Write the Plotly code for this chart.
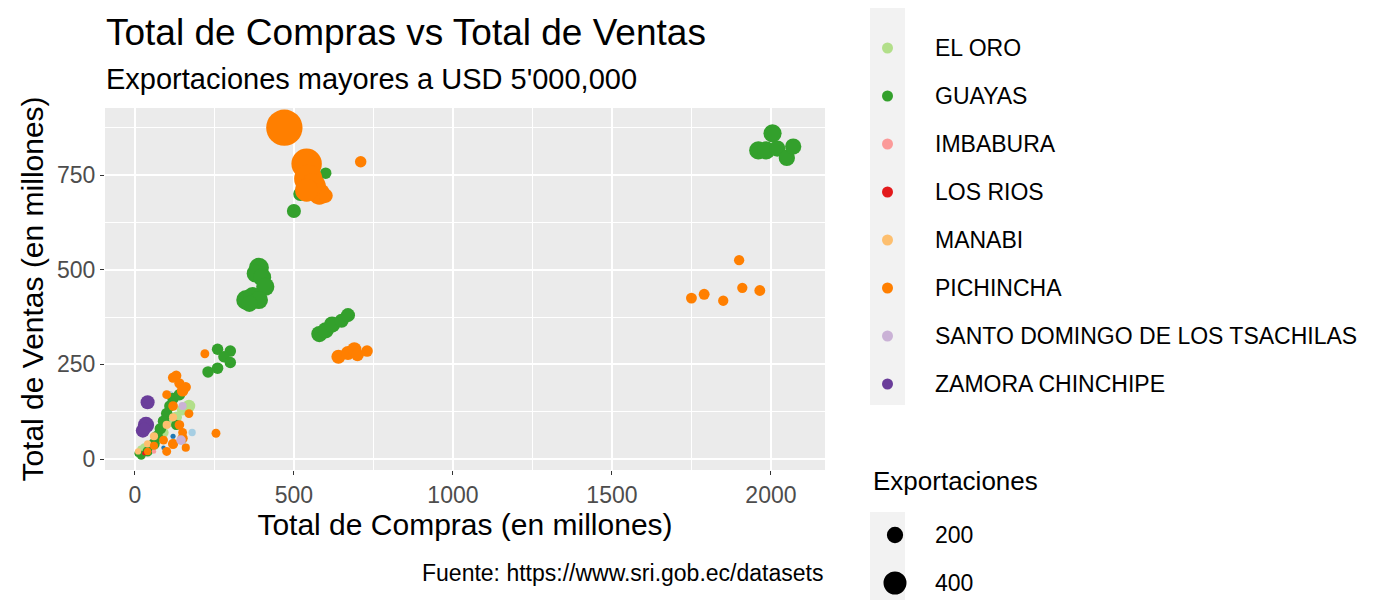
import plotly.graph_objects as go

# Data: (compras, ventas, exportaciones) in millions
provincias = {
    "AZUAY": [(150, 130, 60), (180, 70, 40), (150, 50, 60), (110, 170, 40)],
    "COTOPAXI": [(120, 60, 20), (90, 30, 15)],
    "EL ORO": [(170, 140, 120), (150, 130, 100), (130, 110, 100), (110, 100, 100),
               (90, 70, 80), (70, 50, 60), (30, 30, 60), (20, 25, 50)],
    "GUAYAS": [(1960, 815, 250), (1985, 815, 250), (2005, 860, 250), (2020, 820, 200),
               (2050, 795, 200), (2070, 825, 200), (500, 655, 150), (520, 700, 150),
               (540, 720, 150), (570, 740, 150), (600, 755, 100), (390, 505, 300),
               (380, 490, 250), (400, 480, 250), (410, 455, 250), (350, 420, 300),
               (370, 430, 250), (390, 420, 250), (360, 410, 200), (580, 330, 200),
               (600, 340, 200), (620, 355, 200), (650, 365, 150), (670, 380, 150),
               (260, 290, 100), (300, 285, 100), (280, 270, 100), (300, 255, 100),
               (260, 240, 100), (230, 230, 100), (120, 160, 100), (110, 140, 100),
               (100, 120, 100), (90, 100, 100), (80, 80, 100), (70, 60, 100),
               (60, 40, 100), (40, 20, 80), (20, 10, 60), (10, 15, 40), (130, 90, 80),
               (140, 170, 100)],
    "IMBABURA": [(60, 20, 15)],
    "LOS RIOS": [(30, 15, 15)],
    "MANABI": [(60, 60, 50), (100, 90, 50), (120, 110, 50), (40, 40, 40), (10, 20, 30)],
    "PICHINCHA": [(470, 875, 1000), (540, 780, 700), (545, 740, 600), (560, 720, 500),
                  (580, 700, 350), (540, 710, 400), (600, 695, 150), (710, 785, 100),
                  (640, 270, 150), (670, 280, 150), (690, 290, 150), (700, 275, 120),
                  (730, 285, 100), (1750, 425, 90), (1790, 435, 90), (1850, 418, 80),
                  (1900, 525, 80), (1910, 452, 80), (1965, 445, 90), (220, 278, 60),
                  (255, 68, 60), (120, 215, 80), (130, 220, 80), (140, 200, 80),
                  (150, 180, 100), (160, 190, 80), (100, 170, 60), (120, 140, 70),
                  (170, 120, 60), (140, 90, 70), (150, 70, 60), (120, 40, 80),
                  (100, 20, 60), (160, 30, 50), (60, 35, 50), (40, 20, 40),
                  (90, 50, 60), (150, 55, 80)],
    "SANTO DOMINGO DE LOS TSACHILAS": [(145, 50, 70), (150, 140, 50)],
    "ZAMORA CHINCHIPE": [(40, 150, 150), (35, 90, 200), (25, 75, 150), (30, 80, 120)],
}
colores = ["#A6CEE3", "#1F78B4", "#B2DF8A", "#33A02C", "#FB9A99",
           "#E31A1C", "#FDBF6F", "#FF7F00", "#CAB2D6", "#6A3D9A"]
tamanos_leyenda = [200, 400]

FONT = "Liberation Sans"
K = 1.15  # diameter per sqrt(export)

fig = go.Figure()
for (nombre, pts), col in zip(provincias.items(), colores):
    fig.add_trace(go.Scatter(
        x=[p[0] for p in pts], y=[p[1] for p in pts], mode="markers", name=nombre,
        marker=dict(color=col, size=[K * p[2] ** 0.5 for p in pts], line=dict(width=0), opacity=1),
        showlegend=False, cliponaxis=False,
    ))

# plot area in pixels (page offset of ~8px compensated): x 97-817, y 100-462
OFF = 8
L, R, T, B = 105 - OFF, 825 - OFF, 108 - OFF, 470 - OFF
def px(x): return (x - OFF - L) / (R - L)
def py(y): return (B - (y - OFF)) / (B - T)

shapes, ann = [], []
# colour legend (top entries run off the page, as in the reference)
shapes.append(dict(type="rect", xref="paper", yref="paper", x0=px(870), x1=px(905),
                   y0=py(405), y1=py(-80), fillcolor="#F2F2F2", line_width=0, layer="below"))
for i, (nombre, col) in enumerate(zip(provincias, colores)):
    yy = -48 + 48 * i
    shapes.append(dict(type="circle", xref="paper", yref="paper", x0=px(882), x1=px(893),
                       y0=py(yy + 5.5), y1=py(yy - 5.5), fillcolor=col, line_width=0))
    ann.append(dict(text=nombre, xref="paper", yref="paper", x=px(933), y=py(yy),
                    xanchor="left", yanchor="middle", showarrow=False, font=dict(size=23, color="black")))
# size legend
ann.append(dict(text="Exportaciones", xref="paper", yref="paper", x=px(871), y=py(481),
                xanchor="left", yanchor="middle", showarrow=False, font=dict(size=26, color="black")))
shapes.append(dict(type="rect", xref="paper", yref="paper", x0=px(870), x1=px(905),
                   y0=py(640), y1=py(512), fillcolor="#F2F2F2", line_width=0, layer="below"))
for i, v in enumerate(tamanos_leyenda):
    yy = 535 + 48 * i
    r = K * v ** 0.5 / 2
    shapes.append(dict(type="circle", xref="paper", yref="paper", x0=px(895 - r), x1=px(895 + r),
                       y0=py(yy + r), y1=py(yy - r), fillcolor="black", line_width=0))
    ann.append(dict(text=str(v), xref="paper", yref="paper", x=px(933), y=py(yy),
                    xanchor="left", yanchor="middle", showarrow=False, font=dict(size=23, color="black")))
# titles and caption
ann.append(dict(text="Total de Compras vs Total de Ventas", xref="paper", yref="paper", x=px(104), y=py(32),
                xanchor="left", yanchor="middle", showarrow=False, font=dict(size=37, color="black")))
ann.append(dict(text="Exportaciones mayores a USD 5'000,000", xref="paper", yref="paper", x=px(104), y=py(79),
                xanchor="left", yanchor="middle", showarrow=False, font=dict(size=29, color="black")))
ann.append(dict(text="Fuente: https://www.sri.gob.ec/datasets", xref="paper", yref="paper", x=1, y=py(573),
                xanchor="right", yanchor="middle", showarrow=False, font=dict(size=23, color="black")))

axis_common = dict(showline=False, zeroline=False, gridcolor="white", gridwidth=1.5,
                   ticks="outside", ticklen=4, tickcolor="#333333",
                   tickfont=dict(size=23, color="#4D4D4D"),
                   minor=dict(showgrid=True, gridcolor="white", gridwidth=0.6))
fig.update_layout(
    width=1400, height=600, plot_bgcolor="#EBEBEB", paper_bgcolor="white",
    font=dict(family=FONT, color="black"),
    margin=dict(l=L, r=1400 - R, t=T, b=600 - B),
    xaxis=dict(range=[-94, 2170], tickvals=[0, 500, 1000, 1500, 2000],
               title=dict(text="Total de Compras (en millones)", font=dict(size=30), standoff=4),
               **axis_common),
    yaxis=dict(range=[-29, 927], tickvals=[0, 250, 500, 750],
               title=dict(text="Total de Ventas (en millones)", font=dict(size=30), standoff=4),
               **axis_common),
    shapes=shapes, annotations=ann,
)
fig.update_xaxes(minor_tickvals=[250, 750, 1250, 1750], minor_ticks="")
fig.update_yaxes(minor_tickvals=[125, 375, 625, 875], minor_ticks="")
fig.write_html("out.html")
